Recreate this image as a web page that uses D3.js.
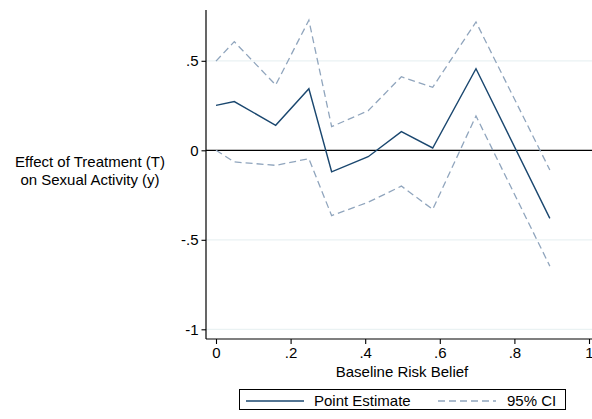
<!DOCTYPE html>
<html>
<head>
<meta charset="utf-8">
<script src="https://cdn.jsdelivr.net/npm/d3@7"></script>
<style>
  html, body { margin: 0; padding: 0; background: #fff; }
  svg { display: block; font-family: "Liberation Sans", Arial, sans-serif; }
</style>
</head>
<body>
<svg id="chart" width="592" height="419"></svg>
<script>
// Baseline risk belief (bin position) and treatment effect estimates
const riskBelief = [0, 0.049, 0.16, 0.249, 0.31, 0.408, 0.497, 0.581, 0.697, 0.895];
const pointEstimate = [0.251, 0.272, 0.14, 0.344, -0.12, -0.036, 0.104, 0.013, 0.456, -0.38];
const ciUpper = [0.498, 0.607, 0.365, 0.727, 0.132, 0.221, 0.411, 0.352, 0.717, -0.11];
const ciLower = [0.0, -0.065, -0.084, -0.047, -0.365, -0.29, -0.2, -0.33, 0.192, -0.647];

const xTicks = [0, 0.2, 0.4, 0.6, 0.8, 1];
const xTickLabels = ["0", ".2", ".4", ".6", ".8", "1"];
const yTicks = [-1, -0.5, 0, 0.5];
const yTickLabels = ["-1", "-.5", "0", ".5"];

const svg = d3.select("#chart");
const plot = { left: 206, right: 592, top: 10, bottom: 339 };
const fontSize = 15;

const x = d3.scaleLinear().domain([0, 1]).range([216, 589]);
const y = d3.scaleLinear().domain([-1, 0.5]).range([329.3, 60.8]);

const navy = "#1a476f";
const ciColor = "#90a5bd";
const gridColor = "#eaf2f3";

// gridlines
svg.append("g").selectAll("line")
  .data(yTicks.filter(d => d !== 0))
  .join("line")
  .attr("x1", plot.left).attr("x2", plot.right)
  .attr("y1", d => y(d)).attr("y2", d => y(d))
  .attr("stroke", gridColor).attr("stroke-width", 1.2);

// zero reference line
svg.append("line")
  .attr("x1", plot.left).attr("x2", plot.right)
  .attr("y1", y(0)).attr("y2", y(0))
  .attr("stroke", "#000").attr("stroke-width", 1.3);

const line = vals => d3.line()
  .x((d, i) => x(riskBelief[i]))
  .y(d => y(d))(vals);

// confidence bounds
[ciUpper, ciLower].forEach(vals => {
  svg.append("path")
    .attr("d", line(vals))
    .attr("fill", "none")
    .attr("stroke", ciColor)
    .attr("stroke-width", 1.3)
    .attr("stroke-dasharray", "7,4");
});

// point estimate
svg.append("path")
  .attr("d", line(pointEstimate))
  .attr("fill", "none")
  .attr("stroke", navy)
  .attr("stroke-width", 1.4);

// y axis
const yAxis = d3.axisLeft(y)
  .tickValues(yTicks)
  .tickFormat((d, i) => yTickLabels[i])
  .tickSize(4.5).tickPadding(3).tickSizeOuter(0);
const gy = svg.append("g").attr("transform", `translate(${plot.left},0)`).call(yAxis);
gy.select(".domain").remove();
gy.append("line").attr("x1", 0).attr("x2", 0).attr("y1", plot.top).attr("y2", plot.bottom)
  .attr("stroke", "#000").attr("stroke-width", 1.2);
gy.selectAll(".tick line").attr("stroke", "#000").attr("stroke-width", 1.1);
gy.selectAll(".tick text").attr("font-size", fontSize).attr("fill", "#000")
  .attr("font-family", "Liberation Sans, Arial, sans-serif");

// x axis
const xAxis = d3.axisBottom(x)
  .tickValues(xTicks)
  .tickFormat((d, i) => xTickLabels[i])
  .tickSize(5).tickPadding(3).tickSizeOuter(0);
const gx = svg.append("g").attr("transform", `translate(0,${plot.bottom})`).call(xAxis);
gx.select(".domain").remove();
gx.append("line").attr("x1", plot.left).attr("x2", plot.right).attr("y1", 0).attr("y2", 0)
  .attr("stroke", "#000").attr("stroke-width", 1.2);
gx.selectAll(".tick line").attr("stroke", "#000").attr("stroke-width", 1.1);
gx.selectAll(".tick text").attr("font-size", fontSize).attr("fill", "#000")
  .attr("font-family", "Liberation Sans, Arial, sans-serif");

// axis titles
svg.append("text")
  .attr("x", (x(0) + x(1)) / 2 - 0.5).attr("y", 377)
  .attr("text-anchor", "middle").attr("font-size", fontSize)
  .text("Baseline Risk Belief");

const yTitle = svg.append("text")
  .attr("text-anchor", "middle").attr("font-size", fontSize);
yTitle.append("tspan").attr("x", 90).attr("y", 167).text("Effect of Treatment (T)");
yTitle.append("tspan").attr("x", 90).attr("y", 185).text("on Sexual Activity (y)");

// legend
const lg = svg.append("g");
lg.append("rect")
  .attr("x", 239.5).attr("y", 389.5).attr("width", 326).attr("height", 20)
  .attr("fill", "#fff").attr("stroke", "#000").attr("stroke-width", 1);
lg.append("line").attr("x1", 246).attr("x2", 304).attr("y1", 401).attr("y2", 401)
  .attr("stroke", navy).attr("stroke-width", 1.4);
lg.append("text").attr("x", 314).attr("y", 406).attr("font-size", fontSize).text("Point Estimate");
lg.append("line").attr("x1", 438).attr("x2", 496).attr("y1", 401).attr("y2", 401)
  .attr("stroke", ciColor).attr("stroke-width", 1.3).attr("stroke-dasharray", "7,4");
lg.append("text").attr("x", 507).attr("y", 406).attr("font-size", fontSize).text("95% CI");
</script>
</body>
</html>
